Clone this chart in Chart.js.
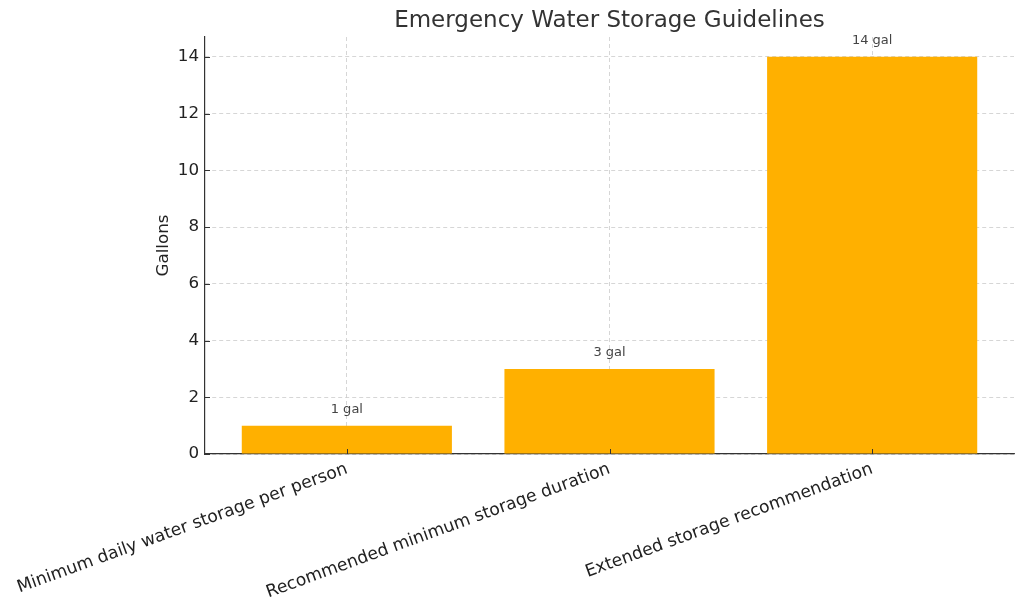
<!DOCTYPE html>
<html>
<head>
<meta charset="utf-8">
<title>Emergency Water Storage Guidelines</title>
<script src="https://cdn.jsdelivr.net/npm/chart.js@4/dist/chart.umd.min.js"></script>
<style>
  html, body { margin: 0; padding: 0; background: #fff; }
  #wrap { width: 1024px; height: 611px; }
</style>
</head>
<body>
<div id="wrap"><canvas id="water-chart"></canvas></div>
<script>
// Chart data
var categories = [
    "Minimum daily water storage per person",
    "Recommended minimum storage duration",
    "Extended storage recommendation"
];
var gallons = [1, 3, 14];
var valueLabels = ["1 gal", "3 gal", "14 gal"];
var yTicks = [0, 2, 4, 6, 8, 10, 12, 14];

var FONT = "'DejaVu Sans', sans-serif";
var ctx = document.getElementById("water-chart");

// write "N gal" above each bar
var barLabels = {
    id: "barLabels",
    afterDatasetsDraw: function(chart) {
        var c = chart.ctx;
        var meta = chart.getDatasetMeta(0);
        c.save();
        c.font = "13px " + FONT;
        c.fillStyle = "#444";
        c.textAlign = "center";
        c.textBaseline = "middle";
        meta.data.forEach(function(bar, i) {
            c.fillText(valueLabels[i], bar.x, bar.y - 16);
        });
        c.restore();
    }
};

// small tick marks pointing into the plot
var innerTicks = {
    id: "innerTicks",
    afterDraw: function(chart) {
        var c = chart.ctx;
        var xs = chart.scales.x, ys = chart.scales.y;
        var area = chart.chartArea;
        c.save();
        c.strokeStyle = "#333";
        c.lineWidth = 1;
        c.beginPath();
        categories.forEach(function(cat, i) {
            var px = Math.round(xs.getPixelForValue(i)) + 0.5;
            c.moveTo(px, area.bottom);
            c.lineTo(px, area.bottom - 5);
        });
        yTicks.forEach(function(v) {
            var py = Math.round(ys.getPixelForValue(v)) + 0.5;
            c.moveTo(area.left, py);
            c.lineTo(area.left + 5, py);
        });
        c.stroke();
        c.restore();
    }
};

var chartData = {
    datasets: [{
        label: "Gallons",
        data: gallons.map(function(v, i) { return { x: i, y: v }; }),
        backgroundColor: "#FFB000",
        borderWidth: 0,
        categoryPercentage: 1.0,
        barPercentage: 0.8
    }]
};

var chartOptions = {
    responsive: true,
    maintainAspectRatio: false,
    animation: false,
    layout: { padding: { left: 152, right: 10, top: 0, bottom: 0 } },
    plugins: {
        legend: { display: false },
        tooltip: { enabled: false },
        title: {
            display: true,
            text: "Emergency Water Storage Guidelines",
            fullSize: false,
            color: "#333",
            font: { family: FONT, size: 23, weight: "normal" },
            padding: { top: 7.5, bottom: 1.9 }
        }
    },
    scales: {
        x: {
            type: "linear",
            min: -0.54,
            max: 2.54,
            offset: false,
            z: 1,
            afterBuildTicks: function(axis) {
                axis.ticks = categories.map(function(c, i) { return { value: i }; });
            },
            afterFit: function(axis) {
                axis.height = 157;
                axis.paddingLeft = 0;
                axis.paddingRight = 0;
            },
            ticks: {
                autoSkip: false,
                minRotation: 20,
                maxRotation: 20,
                padding: 5,
                color: "#222",
                font: { family: FONT, size: 17.2 },
                callback: function(value) { return categories[value]; }
            },
            grid: {
                offset: false,
                color: "#cccccc",
                lineWidth: 0.8,
                drawTicks: false
            },
            border: { display: true, color: "#333", width: 1.2, dash: [4, 3] }
        },
        y: {
            min: 0,
            max: 14.7,
            z: 1,
            afterBuildTicks: function(axis) {
                axis.ticks = yTicks.map(function(v) { return { value: v }; });
            },
            afterFit: function(axis) {
                axis.width = 53;
            },
            ticks: {
                padding: 6,
                color: "#222",
                font: { family: FONT, size: 16.7 }
            },
            title: {
                display: true,
                text: "Gallons",
                color: "#222",
                font: { family: FONT, size: 16.7 },
                padding: { top: 2, bottom: 4 }
            },
            grid: {
                color: "#cccccc",
                lineWidth: 0.8,
                drawTicks: false
            },
            border: { display: true, color: "#333", width: 1.2, dash: [4, 3] }
        }
    }
};

var config = {
    type: "bar",
    data: chartData,
    options: chartOptions,
    plugins: [barLabels, innerTicks]
};

// Create the chart
var waterChart = new Chart(ctx, config);
</script>
</body>
</html>
